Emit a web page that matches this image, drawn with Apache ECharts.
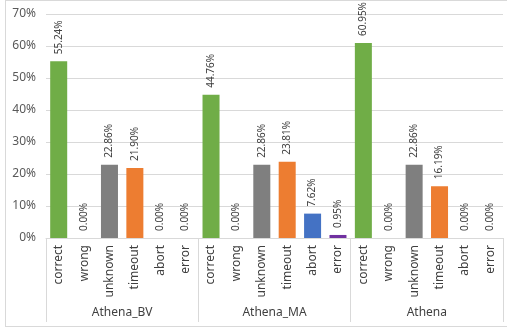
<!DOCTYPE html>
<html>
<head>
<meta charset="utf-8">
<script src="https://cdn.jsdelivr.net/npm/echarts@6/dist/echarts.min.js"></script>
<style>
    html, body { margin: 0; padding: 0; background: #fff; }
    .frame {
        position: absolute;
        left: 5px; top: 0; width: 510px; height: 325px;
        border-left: 1px solid #d9d9d9;
        border-top: 1px solid #d9d9d9;
        border-bottom: 1px solid #d9d9d9;
    }
    #chart { position: absolute; left: 0; top: 0; width: 507px; height: 329px; }
</style>
</head>
<body>
<div class="frame"></div>
<div id="chart"></div>
<script>
const groups = ['Athena_BV', 'Athena_MA', 'Athena'];
const outcomes = ['correct', 'wrong', 'unknown', 'timeout', 'abort', 'error'];
const athenaBV = [55.24, 0.00, 22.86, 21.90, 0.00, 0.00];
const athenaMA = [44.76, 0.00, 22.86, 23.81, 7.62, 0.95];
const athena = [60.95, 0.00, 22.86, 16.19, 0.00, 0.00];
const yTicks = [0, 10, 20, 30, 40, 50, 60, 70];

const colors = ['#70ad47', '#a5a5a5', '#7f7f7f', '#ed7d31', '#4472c4', '#7030a0'];
const font = '"Noto Sans", sans-serif';

const categories = [];
const barData = [];
[athenaBV, athenaMA, athena].forEach((vals) => {
    vals.forEach((v, i) => {
        categories.push(outcomes[i]);
        barData.push({ value: v, itemStyle: { color: colors[i] } });
    });
});

let option = {
    backgroundColor: 'transparent',
    animation: false,
    grid: {
        left: 46,
        right: 4,
        top: 14,
        bottom: 91,
        containLabel: false
    },
    xAxis: [
        {
            type: 'category',
            data: categories,
            position: 'bottom',
            axisLine: { lineStyle: { color: '#d9d9d9' } },
            axisTick: { show: false },
            axisLabel: {
                interval: 0,
                rotate: 90,
                margin: 7,
                fontSize: 12,
                fontFamily: font,
                color: '#404040'
            }
        },
        {
            type: 'category',
            data: groups,
            position: 'bottom',
            axisLine: { show: false },
            axisTick: {
                show: true,
                length: 84,
                lineStyle: { color: '#d9d9d9' }
            },
            axisLabel: {
                margin: 69,
                fontSize: 12,
                fontFamily: font,
                color: '#404040'
            }
        }
    ],
    yAxis: {
        type: 'value',
        min: yTicks[0],
        max: yTicks[yTicks.length - 1],
        interval: 10,
        axisLine: { show: false },
        axisTick: { show: false },
        axisLabel: {
            formatter: '{value}%',
            margin: 10,
            fontSize: 12,
            fontFamily: font,
            color: '#595959'
        },
        splitLine: { lineStyle: { color: '#d9d9d9' } }
    },
    series: [
        {
            type: 'bar',
            xAxisIndex: 0,
            data: barData,
            barWidth: '67%',
            label: {
                show: true,
                position: 'top',
                rotate: 90,
                align: 'left',
                verticalAlign: 'middle',
                distance: 7,
                fontSize: 10,
                fontFamily: font,
                color: '#404040',
                formatter: (p) => p.value.toFixed(2) + '%'
            }
        }
    ]
};

const myChart = echarts.init(document.getElementById('chart'));
myChart.setOption(option);
</script>
</body>
</html>
